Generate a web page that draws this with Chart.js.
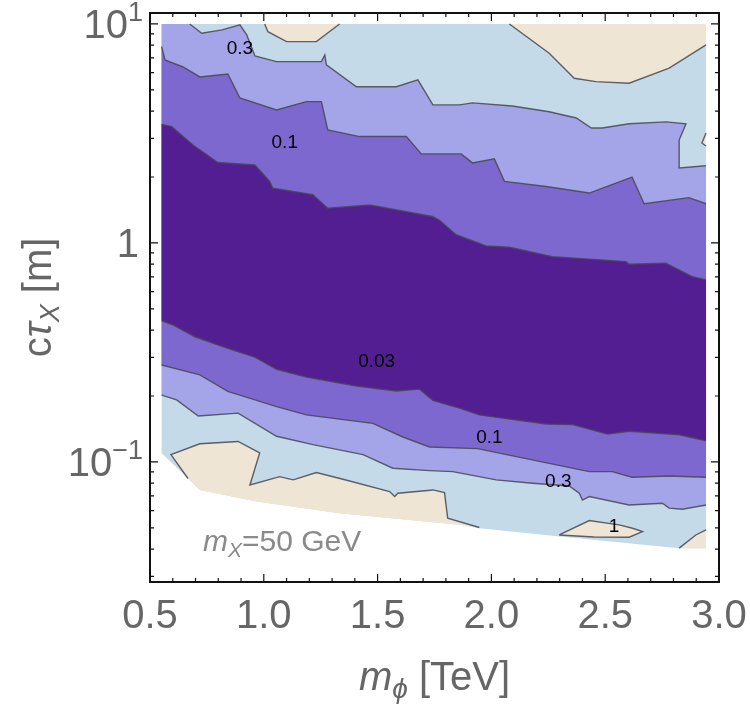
<!DOCTYPE html>
<html>
<head>
<meta charset="utf-8">
<title>Contour chart</title>
<script src="https://cdn.jsdelivr.net/npm/chart.js@4"></script>
<style>
  body { margin: 0; background: #fff; }
  #wrap { width: 750px; height: 709px; }
</style>
</head>
<body>
<div id="wrap"><canvas id="chart" width="750" height="709"></canvas></div>
<script>
// axis ranges (m_phi in TeV, c tau in m)
const xMin = 0.5, xMax = 3.0;
const yMin = 0.0283, yMax = 11.22;
const xTickValues = [0.5, 1.0, 1.5, 2.0, 2.5, 3.0];
const xTickLabels = ['0.5', '1.0', '1.5', '2.0', '2.5', '3.0'];
const yTickValues = [10, 1, 0.1];
const yTickBase = ['10', '1', '10'];
const yTickExp = ['1', '', '\u22121'];

// scanned region: top/left/right edges and the lower cut-off
const regionLeft = 0.551, regionRight = 2.943, regionTop = 10;
const bottomEdge = [[0.551,0.110],[0.719,0.0745],[0.969,0.0659],[1.333,0.0583],[1.860,0.0516],
  [1.947,0.0498],[2.311,0.0456],[2.825,0.0404],[2.943,0.0404]];

// contour 0.3 (upper and lower branch)
const upper03 = [[0.675,10],[0.727,9.07],[0.816,9.39],[0.895,9.9],[0.925,8.91],[0.961,7.14],[1.056,6.73],
  [1.253,6.73],[1.268,7.22],[1.275,6.50],[1.407,5.17],[1.582,5.17],[1.677,5.55],[1.743,4.27],[1.860,4.27],
  [1.917,4.36],[2.092,4.22],[2.254,3.97],[2.373,3.72],[2.439,3.35],[2.487,3.35],[2.605,3.50],[2.768,3.57],
  [2.855,3.50],[2.825,2.95],[2.825,2.20],[2.943,2.25]];
const lower03 = [[0.551,0.202],[0.617,0.192],[0.712,0.162],[0.887,0.167],[1.056,0.131],[1.216,0.120],
  [1.436,0.108],[1.567,0.0936],[1.728,0.0913],[1.830,0.0903],[2.021,0.0828],[2.181,0.0799],[2.342,0.0777],
  [2.386,0.0720],[2.400,0.0670],[2.430,0.0695],[2.605,0.0636],[2.751,0.0648],[2.781,0.0615],[2.839,0.0608],
  [2.943,0.0636]];

// contour 0.1
const upper01 = [[0.551,7.88],[0.566,6.85],[0.645,6.36],[0.719,5.73],[0.842,5.91],[0.895,4.59],[1.056,4.05],
  [1.187,4.42],[1.253,4.42],[1.281,3.28],[1.421,3.06],[1.626,3.06],[1.692,2.55],[1.867,2.55],[1.917,2.32],
  [2.013,2.42],[2.057,1.91],[2.240,1.81],[2.430,1.69],[2.618,2.00],[2.671,1.51],[2.868,1.61],[2.943,1.51]];
const lower01 = [[0.551,0.277],[0.719,0.250],[0.842,0.210],[1.056,0.179],[1.187,0.164],[1.479,0.150],
  [1.611,0.130],[1.728,0.117],[1.939,0.115],[2.430,0.0903],[2.531,0.0903],[2.618,0.0851],[2.781,0.0863],
  [2.943,0.0851]];

// contour 0.03
const upper003 = [[0.551,3.48],[0.595,3.40],[0.689,2.80],[0.798,2.33],[0.961,2.27],[1.026,1.91],[1.039,1.78],
  [1.215,1.66],[1.281,1.44],[1.465,1.49],[1.741,1.32],[1.772,1.27],[1.845,1.09],[1.977,0.969],[2.079,0.956],
  [2.268,0.866],[2.591,0.822],[2.605,0.799],[2.766,0.808],[2.882,0.702],[2.943,0.678]];
const lower003 = [[0.551,0.442],[0.601,0.422],[0.697,0.373],[0.842,0.330],[0.961,0.301],[1.056,0.265],
  [1.187,0.244],[1.407,0.222],[1.582,0.211],[1.684,0.215],[1.743,0.191],[1.860,0.176],[1.947,0.164],
  [2.240,0.149],[2.357,0.148],[2.510,0.134],[2.605,0.138],[2.825,0.133],[2.943,0.125]];

// contour 1 (islands above 1)
const tanTopA = [[1.004,10],[1.018,9.22],[1.100,8.30],[1.231,8.30],[1.333,10]];
const tanTopB = [[2.079,10],[2.254,7.35],[2.364,5.65],[2.459,5.45],[2.605,5.36],[2.781,6.28],[2.943,8.02]];
const tanSliver = [[2.943,3.18],[2.925,2.86],[2.943,2.77]];
const tanLow = [[0.667,0.084],[0.592,0.108],[0.719,0.121],[0.887,0.124],[0.982,0.110],[0.939,0.0785],
  [1.070,0.0857],[1.129,0.0828],[1.231,0.0894],[1.348,0.0834],[1.553,0.0732],[1.575,0.0695],[1.589,0.0720],
  [1.743,0.0745],[1.794,0.0724],[1.808,0.0553],[1.947,0.0502]];
const tanIsland = [[2.298,0.0464],[2.430,0.0540],[2.561,0.0516],[2.620,0.0498],[2.664,0.0481],
  [2.605,0.0453],[2.452,0.0454]];
const tanCorner = [[2.825,0.0404],[2.898,0.0464],[2.943,0.0489]];

// contour labels
const labelText = ['0.3', '0.1', '0.03', '0.1', '0.3', '1'];
const labelX = [0.895, 1.092, 1.496, 1.991, 2.294, 2.539];
const labelY = [7.69, 2.86, 0.286, 0.129, 0.0810, 0.0505];

const COL_BLUE = '#c4dae9', COL_TAN = '#efe5d5', COL_LAV = '#a4a4e8', COL_MID = '#7d68d0', COL_DARK = '#531e91';
const LINE = 'rgba(70,70,80,0.85)';
const FONT = "'Liberation Sans', Arial, sans-serif";

const pts = a => a.map(([x, y]) => ({x, y}));
const rev = a => a.slice().reverse();
const between = (a, lo, hi) => a.filter(([x]) => x > lo && x < hi);

function area(poly, color, order) {
  return {data: pts(poly), fill: 'shape', backgroundColor: color, borderWidth: 0, pointRadius: 0, order};
}
function contour(line) {
  return {data: pts(line), fill: false, borderColor: LINE, borderWidth: 1.4, pointRadius: 0, order: 1};
}

const datasets = [
  area([[regionLeft, regionTop], [regionRight, regionTop], ...rev(bottomEdge)], COL_BLUE, 20),
  area([[regionLeft, regionTop], ...upper03, ...rev(lower03)], COL_LAV, 19),
  area([...upper01, ...rev(lower01)], COL_MID, 18),
  area([...upper003, ...rev(lower003)], COL_DARK, 17),
  area(tanTopA, COL_TAN, 16),
  area([...tanTopB, [regionRight, regionTop]], COL_TAN, 16),
  area(tanSliver, COL_TAN, 16),
  area([...tanLow, ...rev(between(bottomEdge, tanLow[0][0], tanLow[tanLow.length - 1][0]))], COL_TAN, 16),
  area(tanIsland, COL_TAN, 16),
  area([...tanCorner, [regionRight, bottomEdge[bottomEdge.length - 1][1]]], COL_TAN, 16),
  contour(upper03), contour(lower03), contour(upper01), contour(lower01),
  contour(upper003), contour(lower003),
  contour(tanTopA), contour(tanTopB), contour(tanSliver), contour(tanLow),
  contour([...tanIsland, tanIsland[0]]), contour(tanCorner)
];

// draw runs of text with different fonts / vertical offsets
function runs(ctx, parts, x, y, align) {
  let w = 0;
  parts.forEach(p => { ctx.font = p.font; p.w = ctx.measureText(p.t).width; w += p.w; });
  let cx = align === 'right' ? x - w : align === 'center' ? x - w / 2 : x;
  ctx.textAlign = 'left';
  ctx.textBaseline = 'alphabetic';
  parts.forEach(p => { ctx.font = p.font; ctx.fillText(p.t, cx, y + (p.dy || 0)); cx += p.w; });
}

const framePlugin = {
  id: 'framePlugin',
  afterDraw(chart) {
    const {ctx, chartArea: a, scales: {x, y}} = chart;
    ctx.save();
    ctx.strokeStyle = '#111';
    ctx.lineWidth = 1.2;
    ctx.beginPath();
    for (let i = 5; i <= 30; i++) {
      const px = x.getPixelForValue(i / 10);
      const len = i % 5 === 0 ? 8 : 4;
      ctx.moveTo(px, a.bottom); ctx.lineTo(px, a.bottom - len);
      ctx.moveTo(px, a.top); ctx.lineTo(px, a.top + len);
    }
    [0.01, 0.1, 1, 10].forEach(d => {
      for (let k = 1; k <= 9; k++) {
        const v = k * d;
        if (v < yMin || v > yMax) continue;
        const py = y.getPixelForValue(v);
        const len = k === 1 ? 8 : 4;
        ctx.moveTo(a.left, py); ctx.lineTo(a.left + len, py);
        ctx.moveTo(a.right, py); ctx.lineTo(a.right - len, py);
      }
    });
    ctx.stroke();
    ctx.lineWidth = 2;
    ctx.strokeRect(a.left, a.top, a.right - a.left, a.bottom - a.top);

    // tick labels
    ctx.fillStyle = '#666';
    const big = `40px ${FONT}`, sup = `27px ${FONT}`;
    xTickValues.forEach((v, i) => {
      runs(ctx, [{t: xTickLabels[i], font: big}], x.getPixelForValue(v), 628, 'center');
    });
    yTickValues.forEach((v, i) => {
      const py = y.getPixelForValue(v) + 14;
      const parts = [{t: yTickBase[i], font: big}];
      if (yTickExp[i]) parts.push({t: yTickExp[i], font: sup, dy: -17});
      runs(ctx, parts, yTickExp[i] ? 143 : 139, py, 'right');
    });

    // axis titles
    runs(ctx, [
      {t: 'm', font: `italic 40px ${FONT}`},
      {t: '\u03d5', font: `italic 28px ${FONT}`, dy: 8},
      {t: ' [TeV]', font: big}
    ], (a.left + a.right) / 2, 690, 'center');
    ctx.save();
    ctx.translate(36, (a.top + a.bottom) / 2);
    ctx.rotate(-Math.PI / 2);
    runs(ctx, [
      {t: 'c', font: big},
      {t: '\u03c4', font: `italic 40px ${FONT}`},
      {t: 'X', font: `italic 27px ${FONT}`, dy: 8},
      {t: ' [m]', font: big}
    ], 0, 15, 'center');
    ctx.restore();

    // contour labels
    ctx.fillStyle = '#000';
    labelText.forEach((t, i) => {
      ctx.font = `19px ${FONT}`;
      ctx.textAlign = 'center';
      ctx.textBaseline = 'middle';
      ctx.fillText(t, x.getPixelForValue(labelX[i]), y.getPixelForValue(labelY[i]));
    });

    // mass label
    ctx.fillStyle = '#8a8a8a';
    runs(ctx, [
      {t: 'm', font: `italic 30px ${FONT}`},
      {t: 'X', font: `italic 21px ${FONT}`, dy: 6},
      {t: '=50 GeV', font: `30px ${FONT}`}
    ], 203, 551, 'left');
    ctx.restore();
  }
};

new Chart(document.getElementById('chart'), {
  type: 'line',
  data: {datasets},
  options: {
    responsive: false,
    animation: false,
    devicePixelRatio: 1,
    layout: {padding: {left: 150, top: 13, right: 31, bottom: 127}},
    elements: {line: {tension: 0}},
    plugins: {legend: {display: false}, tooltip: {enabled: false}},
    scales: {
      x: {type: 'linear', min: xMin, max: xMax, display: false},
      y: {type: 'logarithmic', min: yMin, max: yMax, display: false}
    }
  },
  plugins: [framePlugin]
});
</script>
</body>
</html>
